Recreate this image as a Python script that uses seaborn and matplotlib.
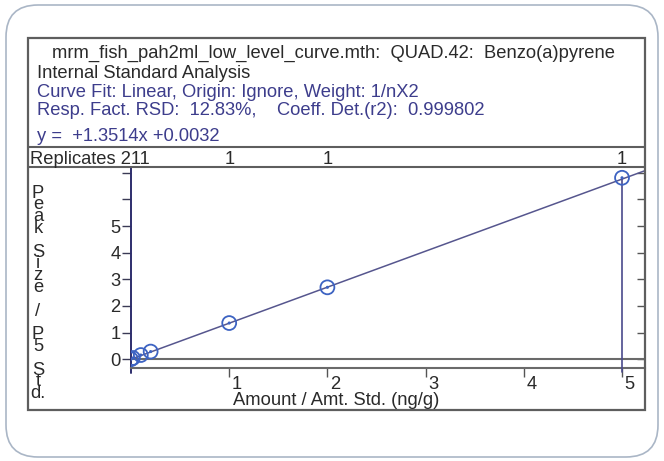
import matplotlib
matplotlib.use('Agg')
import matplotlib.pyplot as plt
import matplotlib.transforms as mtransforms
import seaborn as sns
from matplotlib.lines import Line2D
from matplotlib.patches import FancyBboxPatch, Rectangle

# calibration levels (amount / amt. std) and measured response ratios
amount = [0.0, 0.02, 0.1, 0.2, 1.0, 2.0, 5.0]
response = [0.0, 0.05, 0.16, 0.29, 1.36, 2.70, 6.81]
slope = 1.3514
intercept = 0.0032

replicate_levels = [1, 2, 5]
replicate_counts = ['1', '1', '1']

x_ticks = [1, 2, 3, 4, 5]
y_ticks = [0, 1, 2, 3, 4, 5, 6, 7]
y_tick_labels = ['0', '1', '2', '3', '4', '5', '', '']

header = [
    ('mrm_fish_pah2ml_low_level_curve.mth:  QUAD.42:  Benzo(a)pyrene', 'dark'),
    ('Internal Standard Analysis', 'dark'),
    ('Curve Fit: Linear, Origin: Ignore, Weight: 1/nX2', 'blue'),
    ('Resp. Fact. RSD:  12.83%,    Coeff. Det.(r2):  0.999802', 'blue'),
    ('y =  +1.3514x +0.0032', 'blue'),
]
replicates_label = 'Replicates 211'
x_label = 'Amount / Amt. Std. (ng/g)'
y_label = 'Peak Size / P5 Std.'

W, H = 664, 461
dark = '#2a2a2a'
blue = '#3d3d8c'
frame = '#5e5e5e'
navy = '#2e2e6c'
marker_blue = '#3d63c2'
fsize = 13.2

sns.set_theme(style='white')
plt.rcParams['font.family'] = ['Liberation Sans', 'DejaVu Sans']

fig = plt.figure(figsize=(W / 100, H / 100), dpi=100)
fig.patch.set_facecolor('white')
inch = fig.dpi_scale_trans


def px(x, y):
    return x / 100, (H - y) / 100


def txt(x, y, s, **kw):
    kw.setdefault('fontsize', fsize)
    kw.setdefault('color', dark)
    return fig.text(*px(x, y), s, transform=inch, **kw)


# outer rounded panel and the instrument window frame
fig.add_artist(FancyBboxPatch(px(6, 457), 6.52, 4.52,
                              boxstyle='round,pad=0,rounding_size=0.32',
                              transform=inch, fc='white', ec='#aab6c6',
                              lw=1.2, zorder=-1))
fig.add_artist(Rectangle(px(28, 410), 6.17, 3.72, transform=inch,
                         fill=False, ec=frame, lw=1.6, zorder=3))
for yy in (146.7, 167):
    fig.add_artist(Line2D([0.28, 6.45], [(H - yy) / 100] * 2,
                          transform=inch, color=frame, lw=1.5, zorder=3))

# header text
baselines = [58, 77.5, 96.5, 115, 141]
for i, ((line, kind), yb) in enumerate(zip(header, baselines)):
    x0 = 51.7 if i == 0 else 37
    txt(x0, yb, line, color=dark if kind == 'dark' else blue,
        va='baseline')
txt(30, 163.5, replicates_label, va='baseline')

# plot area
ax = fig.add_axes([131 / W, 1 - 367.7 / H, 514 / W, 200.7 / H])
ax.patch.set_visible(False)
ax.set_xlim(0, 5.234)
ax.set_ylim(-0.315, 7.214)

for side in ('top', 'right'):
    ax.spines[side].set_visible(False)
ax.spines['left'].set_color(navy)
ax.spines['left'].set_linewidth(1.4)
ax.spines['bottom'].set_color('#6a6a6a')
ax.spines['bottom'].set_linewidth(1.5)

ax.set_xticks(x_ticks)
ax.set_yticks(y_ticks, labels=y_tick_labels)
ax.tick_params(axis='y', left=True, direction='out', length=6.5, width=1,
               color='#3a3a55', pad=1, labelsize=fsize, labelcolor=dark)
ax.tick_params(axis='x', bottom=True, direction='out', length=6.5, width=1,
               color='#555555', pad=0, labelsize=fsize, labelcolor=dark)
shift = mtransforms.ScaledTranslation(0.075, 0.01, inch)
for lab in ax.get_xticklabels():
    lab.set_transform(lab.get_transform() + shift)

sec = ax.secondary_yaxis('right')
sec.set_yticks(y_ticks, labels=[''] * len(y_ticks))
sec.tick_params(right=True, direction='in', length=6, width=1,
                color='#555555')
sec.spines['right'].set_visible(False)

# zero line and y-axis stub below the x axis
ax.axhline(0, color='#6a6a6a', lw=1.5, zorder=1)
ax.plot([0, 0], [-0.315, -0.514], color=navy, lw=1.4, clip_on=False)

# fitted curve
x_fit = [0.0, 5.234]
y_fit = [slope * v + intercept for v in x_fit]
sns.lineplot(x=x_fit, y=y_fit, ax=ax, color='#56568e', lw=1.1, zorder=2)

# calibration points
sns.scatterplot(x=amount, y=response, ax=ax, s=100, facecolors='none',
                edgecolor=marker_blue, linewidth=1.3, zorder=4)
sns.scatterplot(x=amount, y=response, ax=ax, s=5, color=marker_blue,
                edgecolor='none', zorder=5)

# selected level marker
ax.plot([amount[-1]] * 2, [response[-1], -0.476], color='#4a4a8c', lw=1.2,
        clip_on=False, zorder=3)

# replicate counts above each level
rep_tr = mtransforms.blended_transform_factory(ax.transData, inch)
for lvl, cnt in zip(replicate_levels, replicate_counts):
    ax.text(lvl, (H - 163.5) / 100, cnt, transform=rep_tr, ha='center',
            va='baseline', fontsize=fsize, color=dark)

# axis titles
txt(336.5, 400, x_label, ha='center', va='center')
chars = list(y_label.replace('.', ''))
chars[-1] += '.'
txt(38, 184.5, '\n'.join(chars), ha='center', va='top',
    multialignment='center', linespacing=0.60)

fig.savefig('out.png', dpi=100)
